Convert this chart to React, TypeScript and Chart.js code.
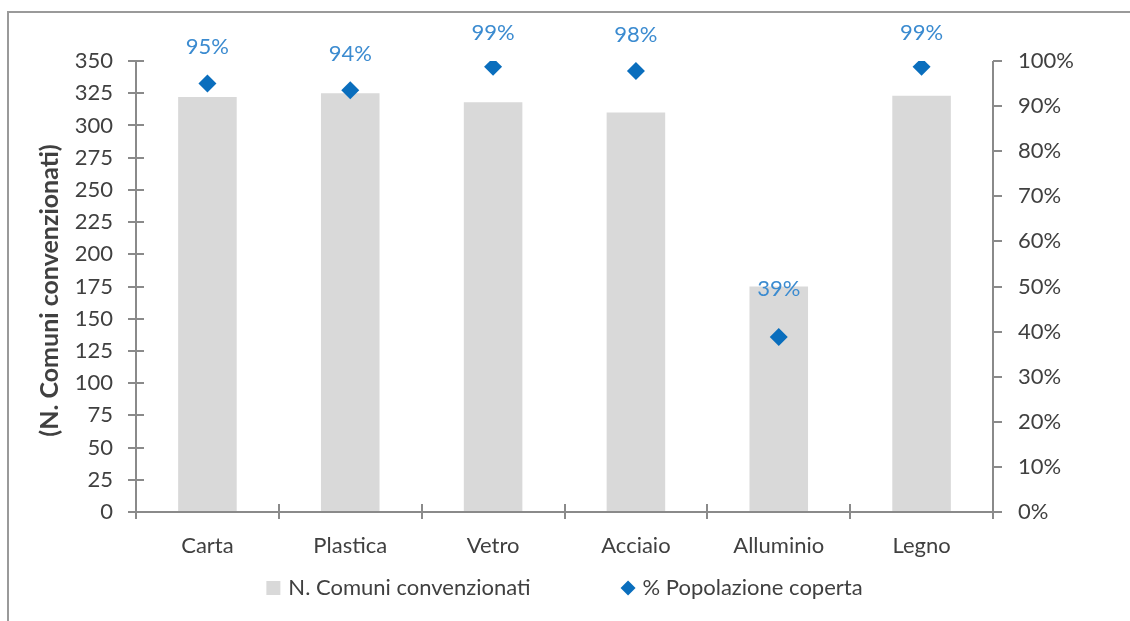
import React, { useEffect, useRef } from 'react';
import { Chart, registerables } from 'chart.js';

Chart.register(...registerables);

const categories = ['Carta', 'Plastica', 'Vetro', 'Acciaio', 'Alluminio', 'Legno'];
const comuniValues = [322, 325, 318, 310, 175, 323];
const popolazioneValues = [95, 93.5, 98.7, 97.8, 38.8, 98.7];
const seriesNames = ['N. Comuni convenzionati', '% Popolazione coperta'];
const leftAxisTitle = '(N. Comuni convenzionati)';

const FONT = 'Lato';
const FS = 22;
const TEXT = '#404040';
const AXIS = '#8a8a8a';
const BAR = '#d9d9d9';
const MARK = '#0a6ebd';
const LABEL = '#3b8bd0';
const labelOffsets = [37, 36, 34, 36, 48, 34];

const decorPlugin = {
  id: 'decor',
  beforeDraw(chart: any) {
    const ctx = chart.ctx;
    ctx.save();
    ctx.fillStyle = '#ffffff';
    ctx.fillRect(0, 0, chart.width, chart.height);
    ctx.strokeStyle = '#9a9a9a';
    ctx.lineWidth = 2;
    ctx.beginPath();
    ctx.moveTo(8, chart.height + 5);
    ctx.lineTo(8, 12);
    ctx.lineTo(chart.width + 5, 12);
    ctx.stroke();
    ctx.restore();
  },
  afterDatasetsDraw(chart: any) {
    const ctx = chart.ctx;
    const { left, right, top, bottom } = chart.chartArea;
    const yL = chart.scales.y;
    const yR = chart.scales.y1;
    const x = chart.scales.x;
    ctx.save();
    ctx.strokeStyle = AXIS;
    ctx.lineWidth = 2;
    ctx.beginPath();
    // left axis
    ctx.moveTo(left, top);
    ctx.lineTo(left, bottom);
    yL.ticks.forEach((t: any) => {
      const py = Math.round(yL.getPixelForValue(t.value));
      ctx.moveTo(left - 8, py);
      ctx.lineTo(left + 8, py);
    });
    // right axis
    ctx.moveTo(right, top);
    ctx.lineTo(right, bottom);
    yR.ticks.forEach((t: any) => {
      const py = Math.round(yR.getPixelForValue(t.value));
      ctx.moveTo(right, py);
      ctx.lineTo(right + 9, py);
    });
    // x axis
    ctx.moveTo(left - 8, bottom);
    ctx.lineTo(right + 9, bottom);
    const n = categories.length;
    for (let i = 0; i <= n; i++) {
      const px = Math.round(i < n ? x.getPixelForValue(i) - (x.getPixelForValue(1) - x.getPixelForValue(0)) / 2 : right);
      ctx.moveTo(px, bottom - 8);
      ctx.lineTo(px, bottom + 7);
    }
    ctx.stroke();

    // data labels
    const meta = chart.getDatasetMeta(1);
    ctx.fillStyle = LABEL;
    ctx.font = `${FS}px ${FONT}`;
    ctx.textAlign = 'center';
    ctx.textBaseline = 'middle';
    meta.data.forEach((pt: any, i: number) => {
      ctx.fillText(Math.round(popolazioneValues[i]) + '%', pt.x, pt.y - labelOffsets[i]);
    });

    // y title
    ctx.save();
    ctx.translate(50, (top + bottom) / 2 + 4);
    ctx.rotate(-Math.PI / 2);
    ctx.fillStyle = TEXT;
    ctx.font = `bold ${FS + 3}px ${FONT}`;
    ctx.fillText(leftAxisTitle, 0, 0);
    ctx.restore();

    // legend
    ctx.font = `${FS}px ${FONT}`;
    ctx.textAlign = 'left';
    const w1 = ctx.measureText(seriesNames[0]).width;
    const w2 = ctx.measureText(seriesNames[1]).width;
    const sym = 14, gapS = 8, gapItems = 90;
    const total = sym + gapS + w1 + gapItems + sym + gapS + w2;
    let lx = (left + right) / 2 - total / 2;
    const ly = 588;
    ctx.fillStyle = BAR;
    ctx.fillRect(lx, ly - 7, sym, sym);
    ctx.fillStyle = TEXT;
    ctx.fillText(seriesNames[0], lx + sym + gapS, ly);
    lx += sym + gapS + w1 + gapItems;
    ctx.fillStyle = MARK;
    ctx.beginPath();
    ctx.moveTo(lx, ly);
    ctx.lineTo(lx + 7.5, ly - 7.5);
    ctx.lineTo(lx + 15, ly);
    ctx.lineTo(lx + 7.5, ly + 7.5);
    ctx.closePath();
    ctx.fill();
    ctx.fillStyle = TEXT;
    ctx.fillText(seriesNames[1], lx + sym + gapS, ly);
    ctx.restore();
  },
};

export default function App() {
  const ref = useRef<HTMLCanvasElement>(null);
  useEffect(() => {
    document.body.style.margin = '0';
    const chart = new Chart(ref.current!, {
      type: 'bar',
      data: {
        labels: categories,
        datasets: [
          {
            type: 'bar',
            label: seriesNames[0],
            data: comuniValues,
            backgroundColor: BAR,
            barPercentage: 0.41,
            categoryPercentage: 1,
            yAxisID: 'y',
            order: 2,
          },
          {
            type: 'scatter' as any,
            label: seriesNames[1],
            data: popolazioneValues,
            backgroundColor: MARK,
            borderColor: MARK,
            pointStyle: 'rectRot',
            pointRadius: 9,
            borderWidth: 0,
            showLine: false,
            yAxisID: 'y1',
            order: 1,
          } as any,
        ],
      },
      options: {
        responsive: false,
        animation: false,
        events: [],
        layout: { padding: { top: 61, left: 0, right: 0, bottom: 0 } },
        plugins: { legend: { display: false }, tooltip: { enabled: false } },
        scales: {
          x: {
            type: 'category',
            grid: { display: false, drawTicks: false },
            border: { display: false },
            ticks: { color: TEXT, font: { family: FONT, size: FS }, padding: 21, maxRotation: 0 },
            afterFit: (s: any) => { s.height = 109; },
          },
          y: {
            position: 'left',
            min: 0,
            max: 350,
            grid: { display: false, drawTicks: false },
            border: { display: false },
            ticks: { stepSize: 25, color: TEXT, font: { family: FONT, size: FS }, padding: 23 },
            afterFit: (s: any) => { s.width = 136; },
          },
          y1: {
            position: 'right',
            min: 0,
            max: 100,
            grid: { display: false, drawTicks: false },
            border: { display: false },
            ticks: { stepSize: 10, color: TEXT, font: { family: FONT, size: FS }, padding: 25, callback: (v: any) => v + '%' },
            afterFit: (s: any) => { s.width = 137; },
          },
        },
      },
      plugins: [decorPlugin],
    });
    return () => chart.destroy();
  }, []);
  return <canvas ref={ref} width={1130} height={621} style={{ display: 'block' }} />;
}
